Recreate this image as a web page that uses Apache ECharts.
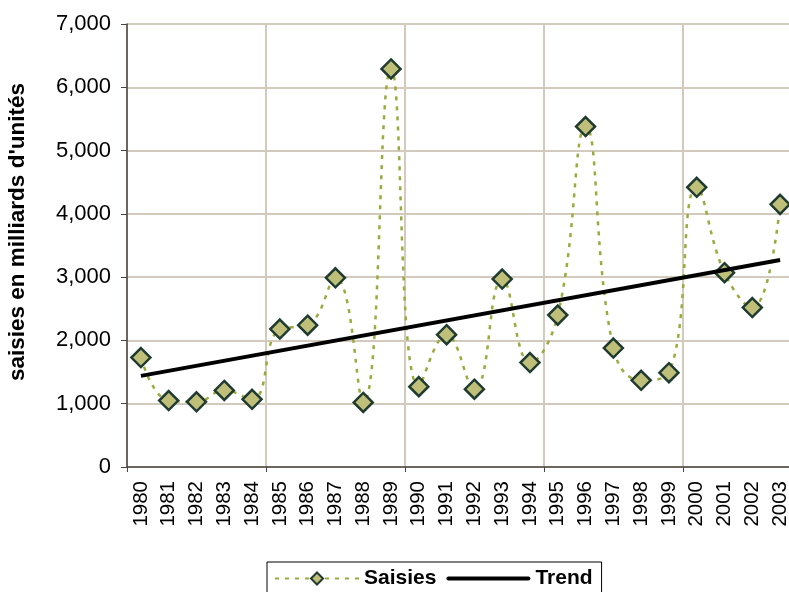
<!DOCTYPE html>
<html>
<head>
<meta charset="utf-8">
<title>Saisies</title>
<script src="https://cdn.jsdelivr.net/npm/echarts@6/dist/echarts.min.js"></script>
<style>
  html, body { margin: 0; padding: 0; background: #fff; }
  #chart { width: 789px; height: 592px; }
</style>
</head>
<body>
<div id="chart"></div>
<script>
// Years on the horizontal axis
var years = ['1980','1981','1982','1983','1984','1985','1986','1987','1988','1989',
             '1990','1991','1992','1993','1994','1995','1996','1997','1998','1999',
             '2000','2001','2002','2003'];

// Seizures, in billions of units
var saisies = [1730, 1050, 1030, 1210, 1070, 2180, 2240, 2990, 1020, 6290,
               1270, 2090, 1230, 2970, 1650, 2400, 5380, 1880, 1370, 1490,
               4420, 3070, 2520, 4150];

// Linear trend: values at the first and last year
var trendEnds = [1440, 3270];

// Value axis bounds
var yMin = 0, yMax = 7000, yStep = 1000;

var font = '"Liberation Sans", Arial, sans-serif';
var gridColor = '#d3cabd';
var axisColor = '#4a4540';

// vertical grid lines / ticks every five years
function everyFive(index) { return index % 5 === 0; }

var chart = echarts.init(document.getElementById('chart'), null, { renderer: 'canvas' });

chart.setOption({
  animation: false,
  textStyle: { fontFamily: font },
  // plot area runs slightly past the right edge of the canvas
  grid: {
    left: 127, top: 24, width: 667, height: 443,
    containLabel: false,
    outerBoundsMode: 'none'
  },
  graphic: [{
    type: 'text',
    x: 18,
    y: 232,
    rotation: Math.PI / 2,
    style: {
      text: "saisies en milliards d'unités",
      font: 'bold 22.5px ' + font,
      fill: '#000',
      textAlign: 'center',
      textVerticalAlign: 'middle'
    }
  }],
  legend: {
    top: 562,
    left: 267,
    orient: 'horizontal',
    padding: [6, 9, 8, 7],
    itemGap: 10,
    itemWidth: 84,
    itemHeight: 15,
    borderColor: '#000',
    borderWidth: 1,
    backgroundColor: '#fff',
    textStyle: { fontFamily: font, fontSize: 21, fontWeight: 'bold', color: '#000' },
    data: [
      { name: 'Saisies' },
      { name: 'Trend', icon: 'path://M2,0H82A2,2,0,0,1,82,4H2A2,2,0,0,1,2,0Z' }
    ]
  },
  xAxis: {
    type: 'category',
    data: years,
    boundaryGap: true,
    axisLine: { show: true, lineStyle: { color: axisColor, width: 1.5 } },
    axisTick: { show: true, interval: everyFive, length: 5, lineStyle: { color: axisColor } },
    axisLabel: {
      interval: 0,
      rotate: 90,
      margin: 14,
      fontSize: 20.5,
      color: '#000',
      fontFamily: font
    },
    splitLine: { show: true, interval: everyFive, lineStyle: { color: gridColor, width: 2 } }
  },
  yAxis: {
    type: 'value',
    min: yMin,
    max: yMax,
    interval: yStep,
    axisLine: { show: true, lineStyle: { color: axisColor, width: 1.5 } },
    axisTick: { show: true, length: 6, lineStyle: { color: axisColor } },
    axisLabel: {
      margin: 16,
      fontSize: 22,
      color: '#000',
      fontFamily: font,
      formatter: function (v) { return v.toLocaleString('en-US'); }
    },
    splitLine: { show: true, lineStyle: { color: gridColor, width: 2 } }
  },
  series: [
    {
      name: 'Saisies',
      type: 'line',
      data: saisies,
      smooth: 0.45,
      symbol: 'diamond',
      symbolSize: 19,
      lineStyle: { color: '#9aab3c', width: 2.5, type: [4, 6] },
      itemStyle: { color: '#bfbf7a', borderColor: '#1f3b30', borderWidth: 2.5 },
      z: 2
    },
    {
      name: 'Trend',
      type: 'line',
      data: [[years[0], trendEnds[0]], [years[years.length - 1], trendEnds[1]]],
      symbol: 'none',
      lineStyle: { color: '#000', width: 4 },
      itemStyle: { color: '#000' },
      z: 3
    }
  ]
});
</script>
</body>
</html>
